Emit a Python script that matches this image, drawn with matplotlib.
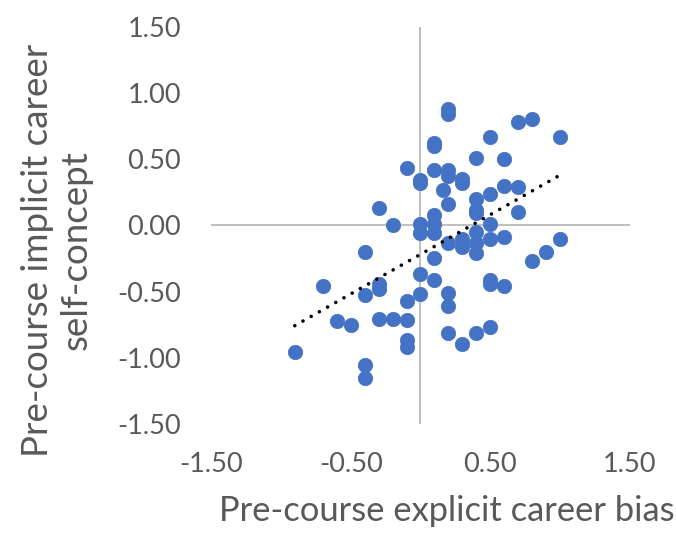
import numpy as np
import matplotlib
matplotlib.use("Agg")
import matplotlib.pyplot as plt

# Pre-course explicit career bias (x) vs implicit career self-concept (y)
explicit_bias = [
    0.2, 0.2, 0.7, 0.8, 0.5, 1.0, 0.1, 0.1, 0.4, 0.6,
    -0.1, 0.1, 0.2, 0.2, 0.3, 0.3, 0.16, 0.0, 0.0, 0.6,
    0.7, 0.5, 0.4, 0.2, -0.3, 0.4, 0.4, 0.7, 0.1, -0.2,
    0.0, 0.0, 0.1, 0.1, 0.5, 0.4, 0.3, 0.3, 0.2, 0.4,
    0.4, 0.5, 0.6, 1.0, 0.9, 0.8, -0.4, 0.1, 0.0, 0.1,
    -0.7, -0.3, -0.3, -0.4, 0.0, 0.5, 0.5, 0.6, 0.2, 0.2,
    -0.1, -0.6, -0.5, -0.3, -0.2, -0.1, -0.1, -0.1, 0.2, 0.3,
    0.4, 0.5, -0.9, -0.4, -0.4,
]
implicit_self_concept = [
    0.88, 0.84, 0.78, 0.80, 0.67, 0.67, 0.62, 0.60, 0.51, 0.50,
    0.43, 0.42, 0.42, 0.37, 0.35, 0.32, 0.27, 0.34, 0.32, 0.30,
    0.29, 0.24, 0.20, 0.16, 0.13, 0.115, 0.09, 0.10, 0.08, 0.00,
    0.01, -0.06, 0.01, -0.06, 0.01, -0.05, -0.10, -0.16, -0.13, -0.13,
    -0.21, -0.10, -0.085, -0.105, -0.20, -0.27, -0.20, -0.25, -0.37, -0.41,
    -0.455, -0.44, -0.48, -0.525, -0.52, -0.41, -0.44, -0.46, -0.51, -0.61,
    -0.57, -0.72, -0.75, -0.71, -0.71, -0.715, -0.865, -0.915, -0.81, -0.895,
    -0.81, -0.765, -0.96, -1.055, -1.15,
]

x_ticks = [-1.5, -0.5, 0.5, 1.5]
y_ticks = [-1.5, -1.0, -0.5, 0.0, 0.5, 1.0, 1.5]

x = np.array(explicit_bias)
y = np.array(implicit_self_concept)

plt.rcParams["font.family"] = ["Lato", "DejaVu Sans"]
text_color = "#595959"

fig = plt.figure(figsize=(6.76, 5.33), dpi=100)
ax = fig.add_axes([0.3121, 0.2045, 0.6198, 0.7454])

ax.set_xlim(-1.5, 1.5)
ax.set_ylim(-1.5, 1.5)

# axes crossing at the origin
ax.axhline(0, color="#BFBFBF", lw=1.4, zorder=1)
ax.axvline(0, color="#BFBFBF", lw=1.4, zorder=1)

ax.scatter(x, y, s=108, color="#4472C4", edgecolors="#4472C4",
           linewidths=0.5, zorder=3)

# linear trendline over the data range
slope, intercept = np.polyfit(x, y, 1)
tx = np.array([x.min(), x.max()])
ax.plot(tx, slope * tx + intercept, color="black", lw=2.6,
        linestyle=(0, (0.01, 2.6)), dash_capstyle="round", zorder=4)

for s in ax.spines.values():
    s.set_visible(False)

ax.set_xticks(x_ticks)
ax.set_yticks(y_ticks)
ax.set_xticklabels([f"{v:.2f}" for v in x_ticks])
ax.set_yticklabels([f"{v:.2f}" for v in y_ticks])
ax.tick_params(axis="both", length=0, labelsize=19.5, colors=text_color)
ax.tick_params(axis="x", pad=20.5)
ax.tick_params(axis="y", pad=21.5)

fig.text(447 / 676, 1 - 511 / 533, "Pre-course explicit career bias",
         ha="center", va="center", fontsize=24.8, color=text_color)
fig.text(57 / 676, 1 - 250 / 533, "Pre-course implicit career\nself-concept",
         ha="center", va="center", rotation=90, fontsize=26.5,
         color=text_color, multialignment="center", linespacing=1.2)

fig.savefig("out.png", dpi=100)
